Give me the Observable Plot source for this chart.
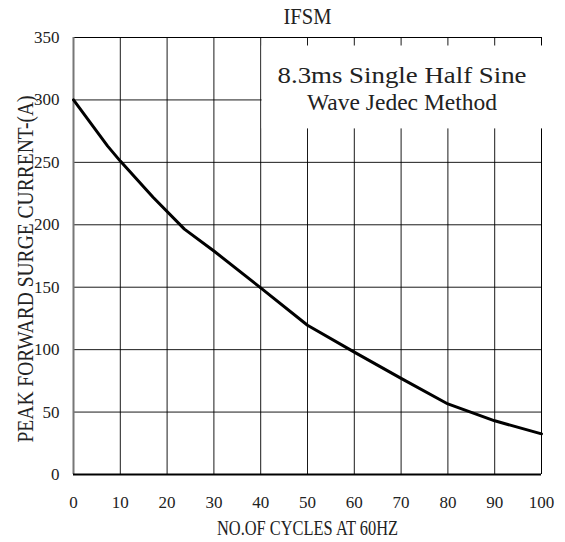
<!DOCTYPE html>
<html>
<head>
<meta charset="utf-8">
<script src="https://cdn.jsdelivr.net/npm/d3@7"></script>
<script src="https://cdn.jsdelivr.net/npm/@observablehq/plot@0.6"></script>
<style>
  html, body { margin: 0; padding: 0; background: #fff; }
  #chart { width: 565px; height: 542px; }
</style>
</head>
<body>
<div id="chart"></div>
<script>
// Data
const cycles  = [0, 7.3, 10, 17, 23.7, 30, 40, 50, 60, 70, 80, 90, 100];
const current = [300, 263, 251, 222, 196.5, 179, 149.5, 119.5, 98, 77, 56.5, 43, 32.5];

// Tick values
const xTicks = [0, 10, 20, 30, 40, 50, 60, 70, 80, 90, 100];
const yTicks = [0, 50, 100, 150, 200, 250, 300, 350];
const xGrid = [10, 20, 30, 40, 50, 60, 70, 80, 90];
const yGrid = [50, 100, 150, 200, 250, 300];

// Texts
const titleText = "IFSM";
const xLabel = "NO.OF CYCLES AT 60HZ";
const yLabel = "PEAK FORWARD SURGE CURRENT-(A)";
const noteLines = ["8.3ms Single Half Sine", "Wave Jedec Method"];

const data = cycles.map((c, i) => ({cycles: c, current: current[i]}));
const font = "'Liberation Serif', 'DejaVu Serif', serif";

const chart = Plot.plot({
  width: 565,
  height: 542,
  marginLeft: 73,
  marginRight: 24,
  marginTop: 37,
  marginBottom: 68,
  style: {fontFamily: font, fontSize: "17px", color: "#222", background: "#fff"},
  x: {domain: [0, 100], ticks: xTicks, tickSize: 0, tickPadding: 21, label: null},
  y: {domain: [0, 350], ticks: yTicks, tickSize: 0, tickPadding: 14, label: null},
  marks: [
    Plot.ruleX(xGrid, {stroke: "#000", strokeWidth: 1, strokeOpacity: 0.9}),
    Plot.ruleY(yGrid, {stroke: "#000", strokeWidth: 1, strokeOpacity: 0.9}),
    Plot.ruleY([350], {stroke: "#000", strokeWidth: 1}),
    Plot.ruleX([100], {stroke: "#000", strokeWidth: 1}),
    // white annotation box hiding the grid
    Plot.rect([0], {x1: 40.3, x2: 100.6, y1: 276.8, y2: 343.2, fill: "#fff"}),
    Plot.ruleX([0], {stroke: "#777", strokeWidth: 2}),
    Plot.ruleY([0], {stroke: "#000", strokeWidth: 2}),
    Plot.line(data, {x: "cycles", y: "current", stroke: "#000", strokeWidth: 3, strokeLinejoin: "round"}),
    Plot.axisX({ticks: xTicks, tickSize: 0, tickPadding: 21, label: null, fontSize: 17}),
    Plot.axisY({ticks: yTicks, tickSize: 0, tickPadding: 14, label: null, fontSize: 17}),
    Plot.text([noteLines[0]], {x: 70.2, y: 313.6, text: d => d, fontSize: 23, lineAnchor: "bottom", textAnchor: "middle", fill: "#222"}),
    Plot.text([noteLines[1]], {x: 70.2, y: 292, text: d => d, fontSize: 23, lineAnchor: "bottom", textAnchor: "middle", fill: "#222"}),
    Plot.text([titleText], {frameAnchor: "top", dy: -14, text: d => d, fontSize: 24, lineAnchor: "bottom", textAnchor: "middle", fill: "#222"}),
    Plot.text([xLabel], {frameAnchor: "bottom", dy: 60, text: d => d, fontSize: 22, lineAnchor: "bottom", textAnchor: "middle", fill: "#222"}),
    Plot.text([yLabel], {frameAnchor: "left", dx: -41, dy: 13, rotate: -90, text: d => d, fontSize: 23, lineAnchor: "bottom", textAnchor: "middle", fill: "#222"})
  ]
});

document.getElementById("chart").appendChild(chart);

// Condense/stretch glyphs to mimic the reference's narrow CJK-style Latin font
const fitLengths = new Map([
  [noteLines[0], 249],
  [noteLines[1], 190],
  [titleText, 48],
  [xLabel, 181],
  [yLabel, 347]
]);
chart.querySelectorAll("text").forEach(t => {
  const len = fitLengths.get(t.textContent);
  if (len) {
    t.setAttribute("textLength", len);
    t.setAttribute("lengthAdjust", "spacingAndGlyphs");
  }
});
</script>
</body>
</html>
